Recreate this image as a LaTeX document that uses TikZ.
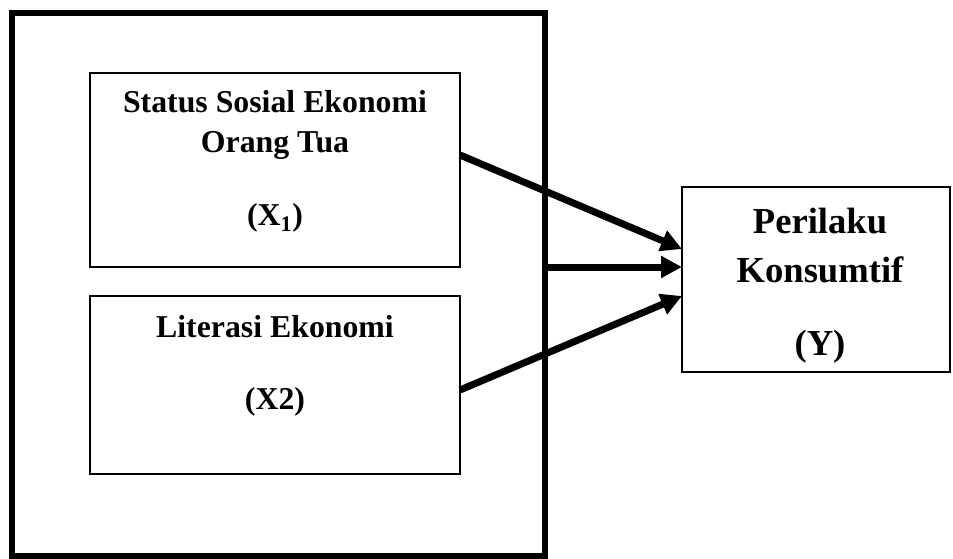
\documentclass[tikz,border=0pt]{standalone}
\usepackage{fontspec}
\setmainfont{Liberation Serif}
\usetikzlibrary{arrows.meta}
\begin{document}
\begin{tikzpicture}[x=1pt,y=-1pt,
  varbox/.style={draw,line width=1.5pt,outer sep=0pt,inner sep=0pt},
  txtA/.style={anchor=base,inner sep=0pt,font=\bfseries\fontsize{31.8}{38}\selectfont},
  txtB/.style={anchor=base,inner sep=0pt,font=\bfseries\fontsize{36.6}{44}\selectfont},
  arr/.style={line width=7pt,-{Triangle[length=21pt,width=21pt]}}]
\useasboundingbox (0,0) rectangle (953,559);
\node[draw,line width=6pt,outer sep=0pt,inner sep=0pt,minimum width=533pt,minimum height=543pt] (outer) at (278.5,284.5) {};
\node[varbox,minimum width=370pt,minimum height=194pt] (x1) at (275,170) {};
\node[varbox,minimum width=370pt,minimum height=178pt] (x2) at (275,385) {};
\node[varbox,minimum width=268pt,minimum height=185pt] (yb) at (816,279.5) {};
\node[txtA] (t1a) at (275,113) {Status Sosial Ekonomi};
\node[txtA] (t1b) at (275,153) {Orang Tua};
\node[txtA] (t1c) at (275,225) {(X\textsubscript{1})};
\node[txtA] (t2a) at (275,337) {Literasi Ekonomi};
\node[txtA] (t2b) at (275,409) {(X2)};
\node[txtB] (tya) at (820,233) {Perilaku};
\node[txtB] (tyb) at (820,282) {Konsumtif};
\node[txtB] (tyc) at (820,355) {(Y)};
\draw[arr] ([yshift=15pt]x1.east) -- ([yshift=30.5pt]yb.west);
\draw[arr] ([yshift=17.5pt,xshift=-3pt]outer.east) -- ([yshift=12.5pt]yb.west);
\draw[arr] ([yshift=-5pt]x2.east) -- ([yshift=-16.5pt]yb.west);
\end{tikzpicture}
\end{document}
